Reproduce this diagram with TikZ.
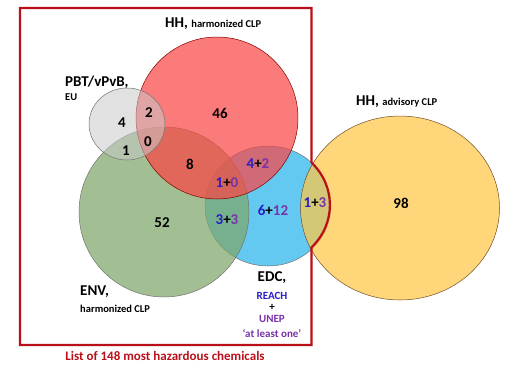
\documentclass[tikz,border=0pt]{standalone}
\usepackage{fontspec}
\setmainfont{Carlito}
\usetikzlibrary{shapes.geometric}

\definecolor{hhred}{RGB}{250,70,70}
\definecolor{pbtgrey}{RGB}{200,200,200}
\definecolor{envgreen}{RGB}{126,166,105}
\definecolor{edcblue}{RGB}{40,180,236}
\definecolor{advyellow}{RGB}{255,200,70}
\definecolor{reachblue}{RGB}{40,30,200}
\definecolor{unepurple}{RGB}{120,50,170}
\definecolor{listred}{RGB}{185,15,25}

\begin{document}
\begin{tikzpicture}[x=1pt,y=-1pt,
    set node/.style={ellipse,draw=black!55,line width=0.5pt,inner sep=0pt,outer sep=0pt,fill opacity=0.72},
    count node/.style={font=\bfseries\fontsize{15}{15}\selectfont},
    big label/.style={anchor=west,inner sep=0pt,font=\bfseries\fontsize{15}{17}\selectfont},
    small label/.style={anchor=west,inner sep=0pt,font=\bfseries\fontsize{10.5}{12}\selectfont},
    edc label/.style={inner sep=0pt,font=\bfseries\fontsize{11}{13}\selectfont}]
    \useasboundingbox (0,0) rectangle (517,375);

    % sets
    \node[set node,fill=edcblue,minimum width=126pt,minimum height=120pt] (edc) at (268,206) {};
    \node[set node,fill=envgreen,minimum size=170pt] (env) at (164,212) {};
    \node[set node,fill=hhred,draw=black!50!red,minimum size=162pt] (hh) at (217,118) {};
    \node[set node,fill=pbtgrey,fill opacity=0.55,minimum width=76pt,minimum height=72pt] (pbt) at (127,124) {};
    \node[set node,fill=advyellow,draw=black!40!brown,minimum width=199pt,minimum height=184pt] (adv) at (400,208) {};

    % frame round the list
    \coordinate (tl) at (20,8);
    \coordinate (br) at (312,345);
    \draw[listred,line width=2.2pt,line join=miter]
        (tl) -- (edc.45 |- tl) -- (edc.45)
        arc[start angle=45,end angle=-45,x radius=63pt,y radius=60pt]
        -- (edc.-45 |- br) -- (tl |- br) -- cycle;
    \node[text=listred,font=\bfseries\fontsize{13}{15}\selectfont] (list) at (165,356) {List of 148 most hazardous chemicals};

    % set labels
    \node[big label] (hhlab) at (165,24) {HH, {\fontsize{10.5}{12}\selectfont harmonized CLP}};
    \node[big label] (advlab) at (356,102) {HH, {\fontsize{10.5}{12}\selectfont advisory CLP}};
    \node[big label] (pbtlab) at (65,82) {PBT/vPvB,};
    \node[small label] (eulab) at (65,97) {EU};
    \node[big label] (envlab) at (80,292) {ENV,};
    \node[small label] (envclp) at (80,309) {harmonized CLP};
    \node[inner sep=0pt,font=\bfseries\fontsize{15}{17}\selectfont] (edclab) at (272,278) {EDC,};
    \node[edc label,text=reachblue] (reach) at (272,296) {REACH};
    \node[edc label] (plus) at (272,307) {+};
    \node[edc label,text=unepurple] (unep) at (272,319) {UNEP};
    \node[edc label,text=unepurple] (least) at (272,333) {‘at least one’};

    % counts
    \node[count node] (n46) at (220,113) {46};
    \node[count node] (n4) at (122,123) {4};
    \node[count node] (n2) at (149,113) {2};
    \node[count node] (n0) at (148,142) {0};
    \node[count node] (n1) at (126,151) {1};
    \node[count node] (n8) at (190,164) {8};
    \node[count node] (n52) at (162,223) {52};
    \node[count node] (n98) at (401,203) {98};
    \node[count node] (n42) at (258,164) {\textcolor{reachblue}{4}+\textcolor{unepurple}{2}};
    \node[count node] (n10) at (227,183) {\textcolor{reachblue}{1}+\textcolor{unepurple}{0}};
    \node[count node] (n33) at (227,220) {\textcolor{reachblue}{3}+\textcolor{unepurple}{3}};
    \node[count node] (n612) at (273,210) {\textcolor{reachblue}{6}+\textcolor{unepurple}{12}};
    \node[count node] (n13) at (315,203) {\textcolor{reachblue}{1}+\textcolor{unepurple}{3}};
\end{tikzpicture}
\end{document}
